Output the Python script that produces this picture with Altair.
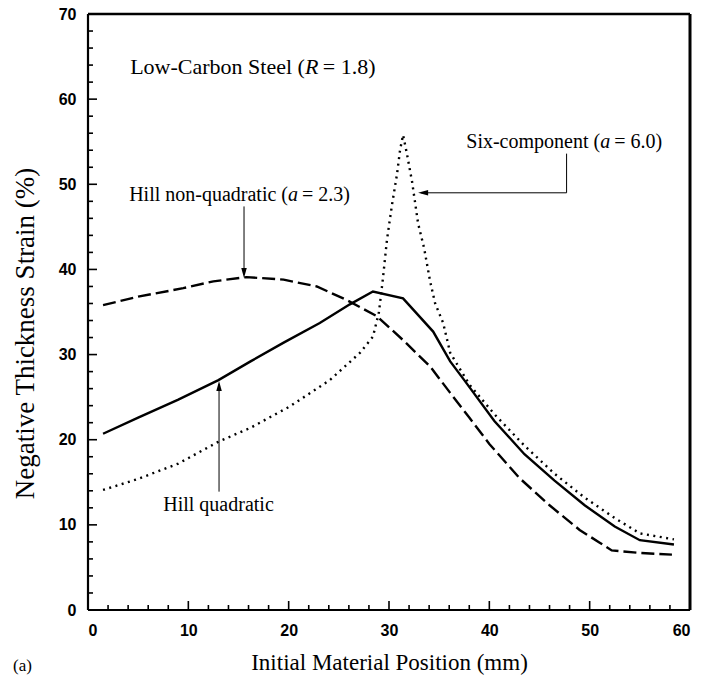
import altair as alt
import pandas as pd

# ---------------- data ----------------
x_quad = [1.5, 5.0, 9.0, 13.0, 16.2, 19.5, 23.1, 26.1, 28.4, 31.4, 34.4, 36.1, 37.5, 40.5, 43.5, 46.5, 49.5, 52.5, 55.0, 58.4]
y_quad = [20.7, 22.6, 24.7, 27.0, 29.2, 31.4, 33.7, 35.9, 37.4, 36.6, 32.7, 29.2, 27.0, 22.2, 18.3, 15.2, 12.3, 9.8, 8.2, 7.7]

x_nonq = [1.5, 5.0, 9.5, 12.5, 15.8, 19.5, 22.8, 25.8, 28.8, 31.4, 34.1, 36.1, 38.0, 40.0, 43.0, 46.0, 49.0, 51.0, 52.2, 55.0, 58.2]
y_nonq = [35.8, 36.8, 37.8, 38.6, 39.1, 38.8, 38.0, 36.4, 34.5, 31.7, 28.6, 25.5, 22.6, 19.5, 15.5, 12.3, 9.4, 7.9, 7.0, 6.7, 6.5]

x_six = [1.5, 5.0, 9.0, 13.06, 16.2, 20.1, 24.1, 27.1, 28.4, 29.0, 29.4, 29.8, 30.3, 30.8, 31.1, 31.4,
         31.8, 32.3, 32.9, 33.5, 34.1, 34.6, 35.4, 36.1, 38.0, 40.5, 43.5, 46.5, 49.5, 52.5, 55.0, 58.4]
y_six = [14.1, 15.4, 17.2, 19.8, 21.4, 23.9, 27.0, 30.2, 32.1, 35.0, 39.0, 43.5, 47.6, 51.2, 54.0, 55.8,
         53.5, 50.3, 45.4, 42.5, 38.6, 36.0, 33.7, 30.2, 26.5, 23.0, 19.3, 16.0, 13.2, 10.8, 9.0, 8.3]

x_major = [0, 10, 20, 30, 40, 50, 60]
y_major = [0, 10, 20, 30, 40, 50, 60, 70]
x_minor = [2, 4, 6, 8, 12, 14, 16, 18, 22, 24, 26, 28, 32, 34, 36, 38, 42, 44, 46, 48, 52, 54, 56, 58]
y_minor = [2, 4, 6, 8, 12, 14, 16, 18, 22, 24, 26, 28, 32, 34, 36, 38, 42, 44, 46, 48,
           52, 54, 56, 58, 62, 64, 66, 68]

# annotations: (parts, x, y, font size) ; parts = list of (text, italic)
annotations = [
    ([("Low-Carbon Steel (", False), ("R", True), (" = 1.8)", False)], 4.2, 63.8, 22),
    ([("Six-component (", False), ("a", True), (" = 6.0)", False)], 37.7, 55.0, 20),
    ([("Hill non-quadratic (", False), ("a", True), (" = 2.3)", False)], 4.1, 48.8, 20),
    ([("Hill quadratic", False)], 7.5, 12.3, 20),
]

# arrow segments (x, y) -> (x2, y2)
seg_x = [47.7, 47.7, 15.55, 13.06]
seg_y = [53.6, 49.0, 47.4, 13.9]
seg_x2 = [47.7, 33.2, 15.55, 13.06]
seg_y2 = [49.0, 49.0, 39.4, 26.5]
head_left = ([32.9], [49.0])
head_down = ([15.55], [39.0])
head_up = ([13.06], [26.9])

# ---------------- helpers ----------------
W_NORMAL = {' ': 250, '(': 333, ')': 333, '-': 333, '.': 250, '=': 564, '%': 833,
            'C': 667, 'H': 722, 'L': 611, 'S': 556, 'R': 667,
            'a': 444, 'b': 500, 'c': 444, 'd': 500, 'e': 444, 'g': 500, 'i': 278, 'k': 500,
            'l': 278, 'm': 778, 'n': 500, 'o': 500, 'p': 500, 'q': 500, 'r': 333, 's': 389,
            't': 278, 'u': 500, 'v': 500, 'w': 722, 'x': 500}
W_ITALIC = {'a': 500, 'R': 611}
ITALIC_EXTRA = 0.2  # em of extra room after an italic letter


def text_width(s, italic, size):
    tbl = W_ITALIC if italic else W_NORMAL
    w = sum(tbl.get(c, 500) for c in s) * size / 1000.0
    return w + (ITALIC_EXTRA * size if italic else 0)


W, H = 602, 596
XMAX, YMAX = 60, 70
xs = alt.Scale(domain=[0, XMAX], nice=False, zero=False)
ys = alt.Scale(domain=[0, YMAX], nice=False, zero=False)
SERIF = "Liberation Serif"
SANS = "Liberation Sans"

# tick lengths (pixels) converted to data units
PX_X = XMAX / W
PX_Y = YMAX / H
MAJ, MIN = 9, 5

x_axis = alt.Axis(values=x_major, title="Initial Material Position (mm)", titleFont=SERIF,
                  titleFontSize=23, titleFontWeight="normal", titleColor="black",
                  titleBaseline="alphabetic", titleY=59, titleX=W / 2,
                  labelFont=SANS, labelFontWeight="bold", labelFontSize=16,
                  labelColor="black", labelPadding=12, ticks=False, domain=False, grid=False)
y_axis = alt.Axis(values=y_major, title="Negative Thickness Strain (%)", titleFont=SERIF,
                  titleFontSize=27, titleFontWeight="normal", titleColor="black",
                  titleBaseline="alphabetic", titleX=-55, titleY=319,
                  labelFont=SANS, labelFontWeight="bold", labelFontSize=16,
                  labelColor="black", labelPadding=12, ticks=False, domain=False, grid=False)


def X(f="x"):
    return alt.X(f"{f}:Q", scale=xs, axis=x_axis)


def Y(f="y"):
    return alt.Y(f"{f}:Q", scale=ys, axis=y_axis)


df_q = pd.DataFrame({"x": x_quad, "y": y_quad})
df_n = pd.DataFrame({"x": x_nonq, "y": y_nonq})
df_s = pd.DataFrame({"x": x_six, "y": y_six})

quad = alt.Chart(df_q).mark_line(color="black", strokeWidth=2.4).encode(x=X(), y=Y())
nonq = alt.Chart(df_n).mark_line(color="black", strokeWidth=2.4, strokeDash=[13, 5]).encode(x=X(), y=Y())
six = alt.Chart(df_s).mark_line(color="black", strokeWidth=2.4, strokeDash=[2, 4.5]).encode(x=X(), y=Y())


def xticks(vals, length):
    d = pd.DataFrame({"x": vals, "y": [0] * len(vals), "y2": [length * PX_Y] * len(vals)})
    return alt.Chart(d).mark_rule(color="black", strokeWidth=1.6).encode(x=X(), y=Y(), y2="y2:Q")


def yticks(vals, length):
    d = pd.DataFrame({"y": vals, "x": [0] * len(vals), "x2": [length * PX_X] * len(vals)})
    return alt.Chart(d).mark_rule(color="black", strokeWidth=1.6).encode(y=Y(), x=X(), x2="x2:Q")


ticks = [xticks(x_major, MAJ), xticks(x_minor, MIN), yticks(y_major, MAJ), yticks(y_minor, MIN)]

# frame
fr = pd.DataFrame({"x": [0, 0, 0, XMAX], "x2": [XMAX, 0, XMAX, XMAX],
                   "y": [0, 0, YMAX, 0], "y2": [0, YMAX, YMAX, YMAX], "w": [2.2, 2.2, 2.6, 3.0]})
frame = alt.Chart(fr).mark_rule(color="black").encode(
    x=X(), y=Y(), x2="x2:Q", y2="y2:Q", strokeWidth=alt.StrokeWidth("w:Q", scale=None, legend=None))

# arrows
segs = alt.Chart(pd.DataFrame({"x": seg_x, "y": seg_y, "x2": seg_x2, "y2": seg_y2})).mark_rule(
    color="black", strokeWidth=1).encode(x=X(), y=Y(), x2="x2:Q", y2="y2:Q")


def head(data, path):
    return alt.Chart(pd.DataFrame({"x": data[0], "y": data[1]})).mark_point(
        shape=path, filled=True, color="black", opacity=1, size=100, strokeWidth=0).encode(x=X(), y=Y())


h_left = head(head_left, "M0,0L2,-0.55L2,0.55Z")
h_down = head(head_down, "M0,0L-0.55,-2L0.55,-2Z")
h_up = head(head_up, "M0,0L-0.55,2L0.55,2Z")

texts = []
for parts, ax, ay, fs in annotations:
    off = 0.0
    for txt, it in parts:
        texts.append(alt.Chart(pd.DataFrame({"x": [ax], "y": [ay], "t": [txt.replace(" ", "\u00a0")]})).mark_text(
            align="left", baseline="middle", font=SERIF, fontSize=fs, dx=off,
            fontStyle="italic" if it else "normal", color="black").encode(
            x=X(), y=Y(), text="t:N"))
        off += text_width(txt, it, fs)

panel_label = alt.Chart(pd.DataFrame({"t": ["(a)"]})).mark_text(
    align="left", baseline="middle", font=SERIF, fontSize=17, color="black").encode(
    x=alt.value(-75), y=alt.value(652), text="t:N")

chart = alt.layer(quad, nonq, six, *ticks, frame, segs,
                  h_left, h_down, h_up, *texts, panel_label).properties(
    width=W, height=H, autosize="none",
    padding={"left": 88, "top": 14, "right": 13, "bottom": 69},
).configure_view(stroke=None).configure(background="white")

chart.save("out.html", embed_options={"renderer": "svg", "actions": False})
